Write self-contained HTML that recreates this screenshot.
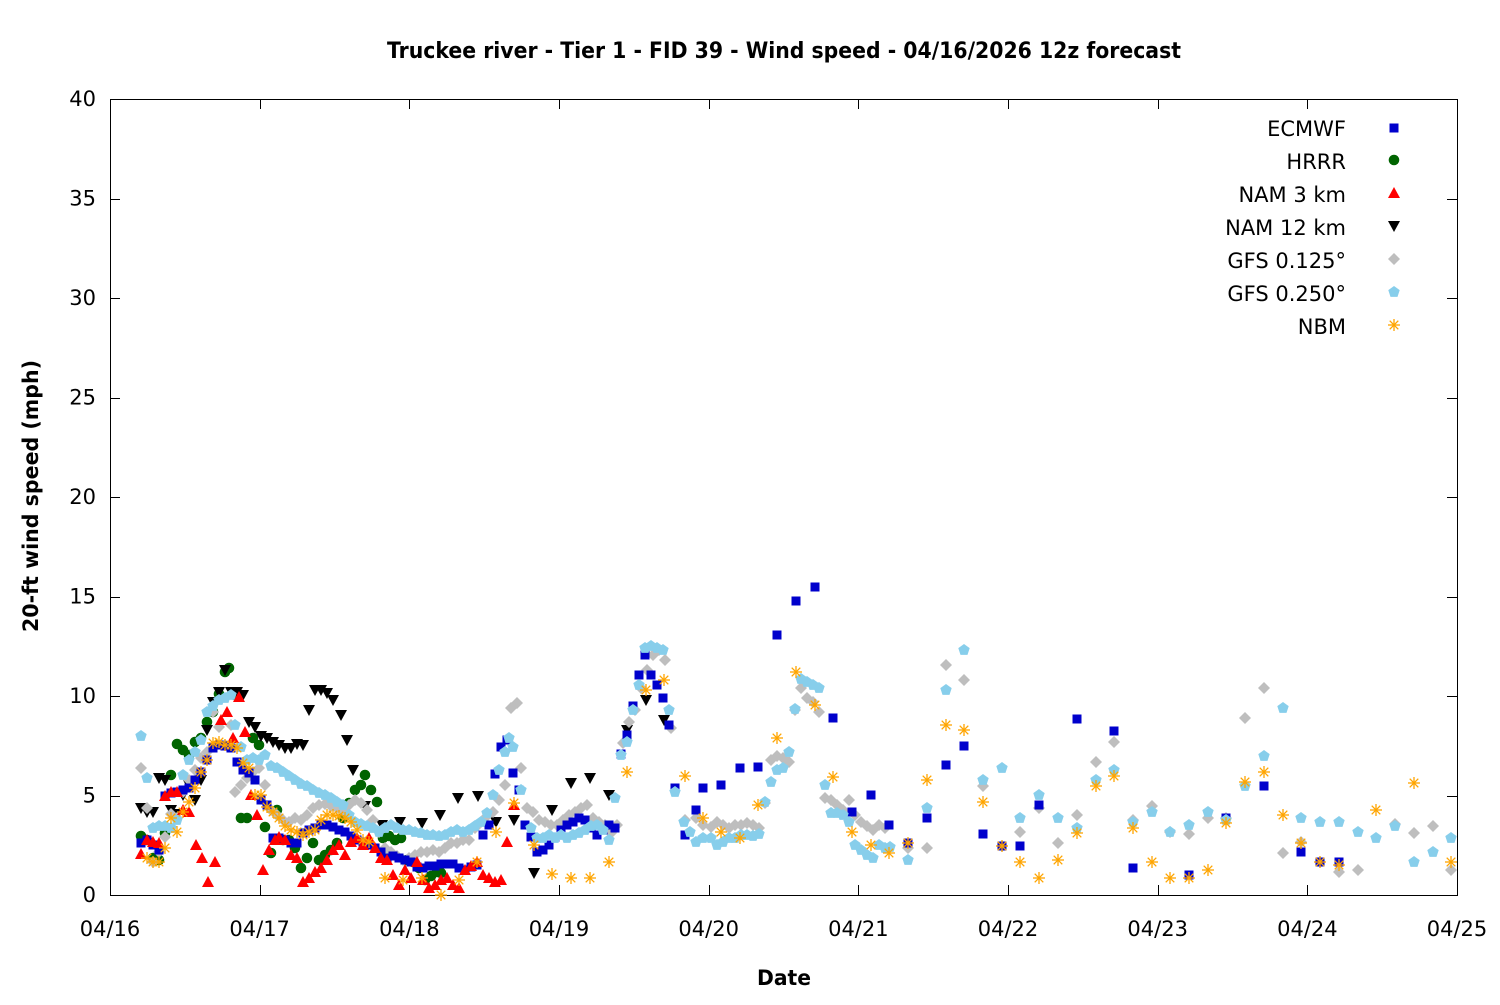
<!DOCTYPE html>
<html><head><meta charset="utf-8"><style>
html,body{margin:0;padding:0;background:#fff;}
svg text{font-family:"DejaVu Sans","Liberation Sans",sans-serif;}
</style></head><body>
<svg id="c" width="1500" height="1000" xmlns="http://www.w3.org/2000/svg">
<defs>
<rect id="sq" x="-4.5" y="-4.5" width="9" height="9" fill="#0000cc"/>
<circle id="ci" r="5.3" fill="#006400"/>
<polygon id="tu" points="0,-6 6,5 -6,5" fill="#ff0000"/>
<polygon id="td" points="0,6 6,-5 -6,-5" fill="#000"/>
<polygon id="di" points="0,-6 6,0 0,6 -6,0" fill="#bebebe"/>
<polygon id="pe" points="0,-6 5.7,-1.9 3.5,4.9 -3.5,4.9 -5.7,-1.9" fill="#87ceeb"/>
<g id="as" stroke="#ffa500" stroke-width="1.3"><line x1="-6" y1="0" x2="6" y2="0"/><line x1="0" y1="-6" x2="0" y2="6"/><line x1="-4.3" y1="-4.3" x2="4.3" y2="4.3"/><line x1="-4.3" y1="4.3" x2="4.3" y2="-4.3"/></g>
</defs>
<text x="387" y="58" font-size="22" font-weight="bold" textLength="794" lengthAdjust="spacingAndGlyphs">Truckee river - Tier 1 - FID 39 - Wind speed - 04/16/2026 12z forecast</text>
<text x="757" y="985" font-size="21" font-weight="bold" textLength="54" lengthAdjust="spacingAndGlyphs">Date</text>
<text transform="translate(38,632) rotate(-90)" font-size="21" font-weight="bold" textLength="272" lengthAdjust="spacingAndGlyphs">20-ft wind speed (mph)</text>
<g stroke="#000" stroke-width="1" fill="none"><rect x="110.5" y="99.5" width="1347" height="796"/></g>
<g id="ticks" font-size="21"></g>
<g id="pts"></g>
<g font-size="21" text-anchor="end">
<text x="1346" y="136">ECMWF</text><text x="1346" y="169">HRRR</text><text x="1346" y="202">NAM 3 km</text><text x="1346" y="235">NAM 12 km</text><text x="1346" y="268">GFS 0.125°</text><text x="1346" y="301">GFS 0.250°</text><text x="1346" y="334">NBM</text>
</g>
<use href="#sq" x="1394" y="128"/><use href="#ci" x="1394" y="160"/><use href="#tu" x="1394" y="193"/><use href="#td" x="1394" y="226"/><use href="#di" x="1394" y="259"/><use href="#pe" x="1394" y="292"/><use href="#as" x="1394" y="325"/>
</svg>
<script>
const NS="http://www.w3.org/2000/svg";
const tk=document.getElementById('ticks');
function el(t,a,p){const e=document.createElementNS(NS,t);for(const k in a)e.setAttribute(k,a[k]);(p||tk).appendChild(e);return e;}
for(let i=0;i<=8;i++){const y=895-i*99.5;const yy=Math.round(y)+0.5;
 el('line',{x1:110,x2:120,y1:yy,y2:yy,stroke:'#000'});el('line',{x1:1447,x2:1457,y1:yy,y2:yy,stroke:'#000'});
 const t=el('text',{x:96,y:y+7,'text-anchor':'end'});t.textContent=i*5;}
const days=['04/16','04/17','04/18','04/19','04/20','04/21','04/22','04/23','04/24','04/25'];
for(let i=0;i<=9;i++){const x=110+i*149.67;const xx=Math.round(x)+0.5;
 el('line',{x1:xx,x2:xx,y1:885,y2:895,stroke:'#000'});el('line',{x1:xx,x2:xx,y1:99,y2:109,stroke:'#000'});
 const t=el('text',{x:x,y:936,'text-anchor':'middle'});t.textContent=days[i];}
const P=document.getElementById('pts');
function S(id,arr){for(let i=0;i<arr.length;i+=2){el('use',{href:'#'+id,x:arr[i],y:arr[i+1]},P);}}
S('ci',[141,836,147,840,153,858,159,860,165,833,171,775,177,744,183,750,189,755,195,742,201,738,207,722,213,712,219,694,225,672,229,668,235,695,241,818,247,818,253,738,259,745,265,827,271,853,277,810,283,840,289,840,295,848,301,868,307,858,313,843,319,860,325,855,331,850,337,843,343,818,349,803,355,790,361,785,365,775,371,790,377,802,383,838,389,836,395,840,401,838,407,860,413,862,419,868,425,880,431,876,437,872,441,873]);
S('td',[141,808,147,812,153,812,159,778,165,780,171,810,177,814,183,795,189,785,195,800,201,780,207,730,213,702,219,692,225,670,231,692,237,692,243,695,249,722,255,727,261,736,267,738,273,742,279,745,285,748,291,748,297,744,303,745,309,710,315,690,321,690,327,693,333,700,341,715,347,740,353,770,365,806,382,825,400,822,422,823,440,815,458,798,478,796,496,822,514,820,534,873,552,810,571,783,590,778,609,795,627,730,646,700,664,720]);
S('di',[141,768,147,808,153,862,159,852,165,837,171,814,177,818,183,792,189,780,195,770,201,758,207,752,213,712,219,727,225,745,231,725,235,792,241,785,247,778,253,772,259,768,265,785,271,810,277,815,283,820,289,822,295,818,301,820,307,815,313,808,319,805,325,804,331,806,337,808,343,810,349,805,355,800,361,803,367,810,373,820,379,832,385,848,391,852,397,856,403,860,409,858,415,855,421,852,427,852,433,850,439,852,445,848,451,843,457,843,463,840,469,840,475,828,481,822,487,816,493,812,499,800,505,785,511,708,517,703,521,768,527,808,533,812,539,820,545,822,551,825,557,825,563,820,569,815,575,812,581,808,587,805,593,818,599,822,605,825,611,833,617,825,623,743,629,722,635,710,641,688,647,670,653,655,659,650,665,660,671,728,685,820,696,818,703,825,711,827,717,822,723,825,729,828,735,825,741,825,747,823,753,825,759,828,765,803,771,760,777,756,783,758,789,762,795,710,801,688,807,698,813,702,819,712,825,798,831,800,837,805,843,810,849,800,855,815,861,822,867,826,873,830,879,825,885,828,908,848,927,848,946,665,964,680,983,786,1002,846,1020,832,1039,808,1058,843,1077,815,1096,762,1114,742,1133,820,1152,806,1170,832,1189,834,1208,818,1226,818,1245,718,1264,688,1283,853,1301,842,1320,862,1339,872,1358,870,1395,824,1414,833,1433,826,1451,870]);
S('sq',[141,843,147,840,153,845,159,850,165,796,171,793,177,792,183,790,189,788,195,780,201,772,207,760,213,748,219,745,225,746,231,748,237,762,243,770,249,773,255,780,261,800,267,805,273,838,279,838,285,840,291,843,297,843,303,833,309,830,315,828,321,825,327,825,333,827,339,830,345,832,351,836,357,840,363,842,369,845,375,848,381,852,387,858,393,856,399,858,405,860,411,862,417,867,423,868,429,866,435,866,441,864,447,864,453,864,459,868,465,870,471,867,477,865,483,835,489,825,495,774,501,747,507,740,513,773,519,790,525,825,531,837,537,852,543,850,549,845,555,837,561,830,567,825,573,822,579,818,585,820,591,828,597,835,603,830,609,825,615,828,621,754,627,735,633,706,639,675,645,655,651,675,657,685,663,698,669,725,675,788,685,835,696,810,703,788,721,785,740,768,758,767,777,635,796,601,815,587,833,718,852,812,871,795,889,825,908,843,927,818,946,765,964,746,983,834,1002,846,1020,846,1039,805,1077,719,1114,731,1133,868,1189,875,1226,818,1264,786,1301,852,1320,862,1339,862]);
S('pe',[141,736,147,778,153,828,159,826,165,826,171,828,177,820,183,775,189,760,195,752,201,740,207,712,213,706,219,700,225,698,231,695,235,725,241,747,247,760,253,758,259,760,265,755,271,766,277,768,283,772,289,776,295,780,301,784,307,786,313,790,319,793,325,795,331,798,337,802,343,805,349,815,355,822,361,824,367,826,373,828,379,832,385,828,391,825,397,828,403,830,409,830,415,832,421,833,427,835,433,835,439,836,445,835,451,832,457,830,463,832,469,830,475,826,481,822,487,813,493,795,499,770,505,752,509,738,513,747,521,790,531,828,537,838,543,838,549,835,555,838,561,835,567,838,573,835,579,833,585,830,591,826,597,825,603,830,609,840,615,798,621,755,627,742,633,710,639,685,645,648,651,646,657,648,663,650,669,710,675,792,684,822,690,832,696,842,703,838,711,838,717,845,723,842,729,838,735,838,741,835,747,835,753,836,759,834,765,802,771,782,777,770,783,768,789,752,795,709,801,679,807,682,813,685,819,688,825,785,831,813,837,813,843,815,849,822,855,845,861,850,867,855,873,858,879,845,885,848,890,847,908,860,927,808,946,690,964,650,983,780,1002,768,1020,818,1039,795,1058,818,1077,828,1096,780,1114,770,1133,822,1152,812,1170,832,1189,825,1208,812,1226,820,1245,786,1264,756,1283,708,1301,818,1320,822,1339,822,1358,832,1376,838,1395,826,1414,862,1433,852,1451,838]);
S('tu',[141,854,147,840,153,842,159,843,165,796,171,792,177,792,183,810,189,812,196,845,202,858,208,882,215,862,221,720,227,712,233,738,239,697,245,732,251,795,257,815,263,870,269,850,275,840,279,837,285,840,291,855,297,858,303,882,309,878,315,872,321,868,327,860,333,850,339,845,345,855,351,842,357,838,363,845,369,838,375,848,381,858,387,860,393,875,399,885,405,870,411,878,417,862,423,880,429,888,435,885,441,880,447,878,453,885,459,888,465,870,471,866,477,862,483,875,489,878,495,882,501,880,507,842,514,805]);
S('as',[147,858,153,862,159,862,165,848,171,818,177,832,183,812,189,802,195,788,201,772,207,760,213,743,219,742,225,745,231,745,237,748,243,763,249,768,255,795,261,795,267,807,273,812,279,818,285,826,291,830,297,832,303,835,309,832,315,830,321,820,327,815,333,815,339,816,345,818,351,822,357,830,363,840,369,842,385,878,403,880,422,878,441,895,459,880,477,862,496,832,514,803,534,845,552,874,571,878,590,878,609,862,627,772,646,690,664,680,685,776,703,818,721,832,740,838,758,805,777,738,796,672,815,705,833,777,852,832,871,845,889,853,908,843,927,780,946,725,964,730,983,802,1002,846,1020,862,1039,878,1058,860,1077,833,1096,786,1114,776,1133,828,1152,862,1170,878,1189,878,1208,870,1226,823,1245,782,1264,772,1283,815,1301,843,1320,862,1339,865,1376,810,1414,783,1451,862]);
</script>
</body></html>
